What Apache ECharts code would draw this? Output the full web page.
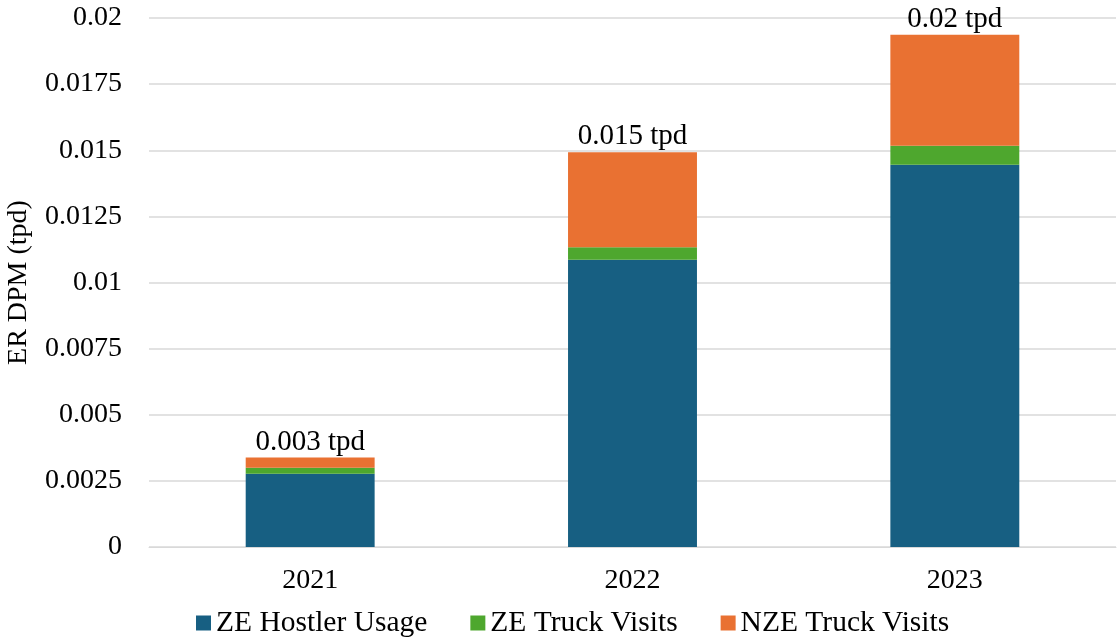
<!DOCTYPE html>
<html>
<head>
<meta charset="utf-8">
<script src="https://cdn.jsdelivr.net/npm/echarts@6/dist/echarts.min.js"></script>
<style>html,body{margin:0;padding:0;background:#fff}#chart{width:1118px;height:639px}</style>
</head>
<body>
<div id="chart"></div>
<script>
// data
var years = ['2021', '2022', '2023'];
var hostler = [0.00277, 0.01086, 0.01445];
var zeTruck = [0.00023, 0.00047, 0.00072];
var nzeTruck = [0.00038, 0.00359, 0.00420];
var totalLabels = ['0.003 tpd', '0.015 tpd', '0.02 tpd'];
var yTicks = ['0', '0.0025', '0.005', '0.0075', '0.01', '0.0125', '0.015', '0.0175', '0.02'];

var font = 'Liberation Serif, Times New Roman, serif';
var myChart = echarts.init(document.getElementById('chart'));

var option = {
  textStyle: { fontFamily: font },
  animation: false,
  grid: { left: 149, right: 2, top: 18, bottom: 92, outerBoundsMode: 'none' },
  legend: {
    top: 603,
    left: 191,
    itemWidth: 15,
    itemHeight: 15,
    itemGap: 43,
    icon: 'rect',
    textStyle: { fontFamily: font, fontSize: 29.5, color: '#000' },
    data: ['ZE Hostler Usage', 'ZE Truck Visits', 'NZE Truck Visits']
  },
  xAxis: {
    type: 'category',
    data: years,
    axisLine: { lineStyle: { color: '#d9d9d9' } },
    axisTick: { show: false },
    axisLabel: { fontFamily: font, fontSize: 28, color: '#000', margin: 20 }
  },
  yAxis: {
    type: 'value',
    min: 0,
    max: 0.02,
    interval: 0.0025,
    name: 'ER DPM (tpd)',
    nameLocation: 'middle',
    nameGap: 116,
    nameTextStyle: { fontFamily: font, fontSize: 28, color: '#000' },
    axisLabel: {
      fontFamily: font, fontSize: 28, color: '#000', margin: 27,
      formatter: function (v) {
        var i = Math.round(v / 0.0025);
        return yTicks[i];
      }
    },
    splitLine: { lineStyle: { color: '#d9d9d9', width: 1.5 } }
  },
  series: [
    {
      name: 'ZE Hostler Usage', type: 'bar', stack: 'total', barWidth: '40%',
      itemStyle: { color: '#175f82' }, data: hostler
    },
    {
      name: 'ZE Truck Visits', type: 'bar', stack: 'total',
      itemStyle: { color: '#4ea72e' }, data: zeTruck
    },
    {
      name: 'NZE Truck Visits', type: 'bar', stack: 'total',
      itemStyle: { color: '#e97132' }, data: nzeTruck,
      label: {
        show: true, position: 'top', distance: 1,
        fontFamily: font, fontSize: 29, color: '#000',
        formatter: function (p) { return totalLabels[p.dataIndex]; }
      }
    }
  ]
};

myChart.setOption(option);
</script>
</body>
</html>
